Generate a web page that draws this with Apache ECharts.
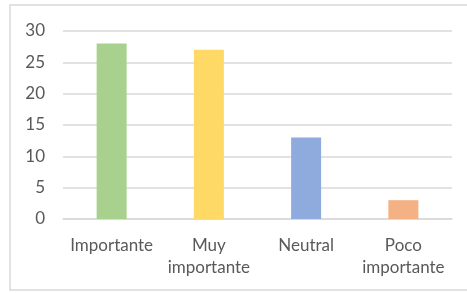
<!DOCTYPE html>
<html>
<head>
<meta charset="utf-8">
<script src="https://cdn.jsdelivr.net/npm/echarts@6/dist/echarts.min.js"></script>
<style>
  html, body { margin: 0; padding: 0; background: #fff; }
  #chart { width: 467px; height: 293px; }
</style>
</head>
<body>
<div id="chart"></div>
<script>
var categories = ['Importante', 'Muy\nimportante', 'Neutral', 'Poco\nimportante'];
var values = [28, 27, 13, 3];
var barColors = ['#a9d18e', '#ffd966', '#8faadc', '#f4b183'];

var option = {
    animation: false,
    textStyle: { fontFamily: 'Lato' },
    graphic: [{
        type: 'rect',
        shape: { x: 10, y: 5, width: 470, height: 285 },
        style: { fill: 'none', stroke: '#d9d9d9', lineWidth: 1.5 }
    }],
    grid: {
        left: 63,
        right: 15,
        top: 31,
        bottom: 74
    },
    xAxis: {
        type: 'category',
        data: categories,
        axisLine: { lineStyle: { color: '#d9d9d9', width: 1.5 } },
        axisTick: { show: false },
        axisLabel: {
            color: '#595959',
            fontSize: 17,
            lineHeight: 22,
            margin: 16,
            interval: 0
        }
    },
    yAxis: {
        type: 'value',
        min: 0,
        max: 30,
        interval: 5,
        axisLine: { show: false },
        axisTick: { show: false },
        axisLabel: { color: '#595959', fontSize: 17, margin: 18 },
        splitLine: { lineStyle: { color: '#d9d9d9', width: 1.5 } }
    },
    series: [{
        type: 'bar',
        barWidth: 30,
        data: values.map(function (v, i) {
            return { value: v, itemStyle: { color: barColors[i] } };
        })
    }]
};

echarts.init(document.getElementById('chart')).setOption(option);
</script>
</body>
</html>
